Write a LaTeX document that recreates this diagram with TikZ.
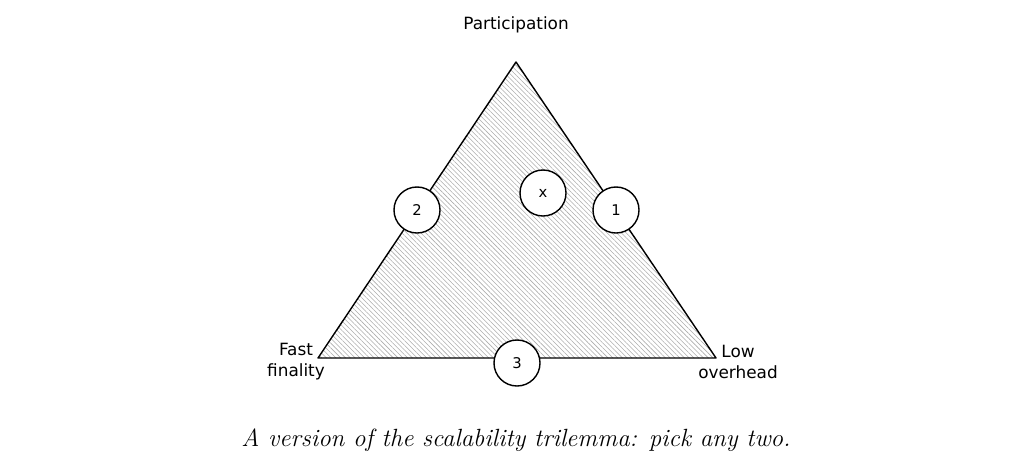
\documentclass[tikz,border=0pt]{standalone}
\usepackage{fontspec}
\newfontfamily\handfont{DejaVu Sans}
\usetikzlibrary{patterns.meta}
\begin{document}
\begin{tikzpicture}[x=0.025cm, y=-0.025cm, line width=1pt,
        mark_circle/.style={draw, circle, fill=white, minimum size=1.15cm, inner sep=0pt, font=\handfont\fontsize{10.5}{12}\selectfont},
        corner_label/.style={align=center, font=\handfont\fontsize{12}{15}\selectfont}]
        \useasboundingbox (0, 0) rectangle (1024, 461);

        % Corners
        \coordinate (top) at (516, 62);
        \coordinate (left) at (318, 358);
        \coordinate (right) at (716, 358);

        % Triangle
        \fill[pattern={Lines[angle=135, distance=2.4pt, line width=0.4pt]}, pattern color=gray!65] (top) -- (left) -- (right) -- cycle;
        \draw[line join=round] (top) -- (left) -- (right) -- cycle;

        % Circles
        \node[mark_circle] (two) at (417, 210) {2};
        \node[mark_circle] (cross) at (543, 193) {x};
        \node[mark_circle] (one) at (616, 210) {1};
        \node[mark_circle] (three) at (517, 363) {3};

        % Labels
        \node[corner_label] (participation) at (516, 25) {Participation};
        \node[corner_label] (fast) at (296, 362) {Fast\\finality};
        \node[corner_label] (low) at (738, 362) {Low\\overhead};

        % Caption
        \node[font=\itshape\fontsize{17.7}{21}\selectfont] (caption) at (516, 440) {A version of the scalability trilemma: pick any two.};
    \end{tikzpicture}
\end{document}
